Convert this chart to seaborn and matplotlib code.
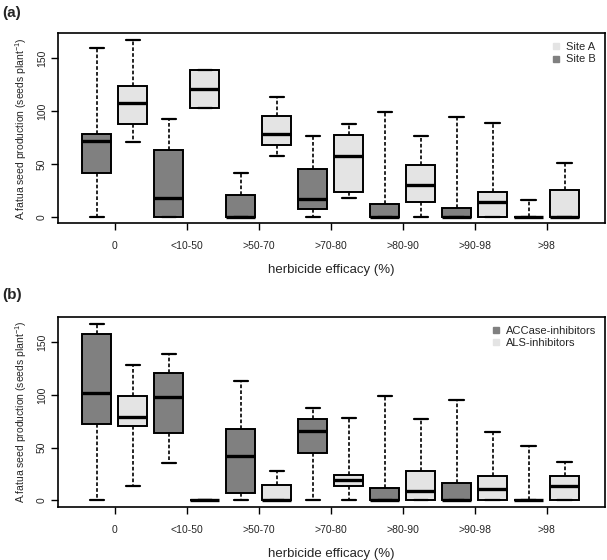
import numpy as np
import pandas as pd
import matplotlib
matplotlib.use('Agg')
import matplotlib.pyplot as plt
from matplotlib.lines import Line2D
import seaborn as sns

# efficacy classes on the x axis
classes = ['0', '<10-50', '>50-70', '>70-80', '>80-90', '>90-98', '>98']

# five-number summaries (min, q1, median, q3, max)
site_a = [[70.7, 88.1, 108.0, 123.8, 167.4],
          [103.3, 103.3, 121.0, 138.6, 138.6],
          [57.8, 67.6, 78.0, 95.4, 113.0],
          [18.0, 23.4, 57.5, 77.4, 87.8],
          [0.0, 13.6, 30.3, 49.0, 76.7],
          [0.0, 0.0, 14.2, 23.4, 88.7],
          [0.0, 0.0, 0.0, 25.6, 50.8]]
site_b = [[0.0, 41.4, 71.4, 78.6, 159.5],
          [0.0, 0.0, 17.4, 63.2, 92.5],
          [0.0, 0.0, 0.0, 20.8, 41.4],
          [0.0, 7.3, 17.0, 44.8, 76.7],
          [0.0, 0.0, 0.0, 12.3, 98.8],
          [0.0, 0.0, 0.0, 7.9, 94.7],
          [0.0, 0.0, 0.0, 0.0, 16.1]]

accase = [[0.0, 72.6, 101.5, 157.6, 167.8],
          [34.9, 63.4, 98.0, 121.2, 138.9],
          [0.0, 6.3, 41.5, 67.9, 113.5],
          [0.0, 45.0, 65.7, 77.4, 87.9],
          [0.0, 0.0, 0.0, 11.4, 99.3],
          [0.0, 0.0, 0.0, 16.2, 95.5],
          [0.0, 0.0, 0.0, 0.0, 51.1]]
als = [[13.3, 70.4, 79.3, 99.0, 128.8],
       [0.0, 0.0, 0.0, 0.0, 0.0],
       [0.0, 0.0, 0.0, 14.0, 27.9],
       [0.0, 13.0, 18.7, 24.1, 78.0],
       [0.0, 0.0, 8.9, 27.9, 76.8],
       [0.0, 0.0, 10.5, 23.2, 64.4],
       [0.0, 0.0, 13.6, 22.5, 35.8]]

DARK = '#808080'
LIGHT = '#e4e4e4'


def to_long(series):
    rows = []
    for name, stats in series.items():
        for cls, vals in zip(classes, stats):
            for v in vals:
                rows.append({'efficacy': cls, 'seeds': v, 'group': name})
    return pd.DataFrame(rows)


sns.set_theme(style='white')
plt.rcParams['font.family'] = ['Liberation Sans', 'DejaVu Sans']
plt.rcParams['mathtext.default'] = 'regular'

fig = plt.figure(figsize=(6.07, 5.6), dpi=100)
ax_a = fig.add_axes([0.0956, 0.601, 0.901, 0.3395])
ax_b = fig.add_axes([0.0956, 0.094, 0.901, 0.3405])

panels = [
    (ax_a, {'Site B': site_b, 'Site A': site_a}, ['Site B', 'Site A'],
     [('Site A', LIGHT), ('Site B', DARK)], '(a)', 1 - 13 / 560, (-6.3, 173.7)),
    (ax_b, {'ACCase-inhibitors': accase, 'ALS-inhibitors': als},
     ['ACCase-inhibitors', 'ALS-inhibitors'],
     [('ACCase-inhibitors', DARK), ('ALS-inhibitors', LIGHT)], '(b)',
     1 - 295 / 560, (-6.9, 174.4)),
]

for ax, series, order, leg, tag, tag_y, ylim in panels:
    df = to_long(series)
    sns.boxplot(data=df, x='efficacy', y='seeds', hue='group',
                order=classes, hue_order=order,
                palette={order[0]: DARK, order[1]: LIGHT},
                whis=(0, 100), width=1.0, gap=0.2, dodge=True,
                linecolor='black', linewidth=1.4, fliersize=0,
                saturation=1, legend=False, ax=ax,
                medianprops=dict(linewidth=2.4, color='black'),
                whiskerprops=dict(linestyle=(0, (2.2, 1.3)), linewidth=1.2),
                capprops=dict(linewidth=1.6))
    ax.set_xlim(-0.79, 6.81)
    ax.set_ylim(*ylim)
    ax.set_yticks([0, 50, 100, 150])
    ax.tick_params(axis='both', direction='out', length=5, width=1,
                   color='black', labelsize=7.5, pad=8, bottom=True, left=True)
    ax.tick_params(axis='y', pad=3)
    for lab in ax.get_yticklabels():
        lab.set_rotation(90)
        lab.set_va('center')
    for sp in ax.spines.values():
        sp.set_color('black')
        sp.set_linewidth(1.2)
    ax.set_xlabel('herbicide efficacy (%)', fontsize=9.5, labelpad=9)
    ax.set_ylabel('A.fatua seed production (seeds plant$^{-1}$)', fontsize=7.5,
                  labelpad=6)
    handles = [Line2D([], [], marker='s', linestyle='', color=c, markersize=3.8)
               for _, c in leg]
    ax.legend(handles, [n for n, _ in leg], loc='upper right', frameon=False,
              fontsize=8, handletextpad=0.3, labelspacing=0.2,
              borderaxespad=0.4, handlelength=1.2)
    fig.text(0.004, tag_y, tag, fontsize=11, fontweight='bold',
             ha='left', va='center')

fig.savefig('out.png', dpi=100)
